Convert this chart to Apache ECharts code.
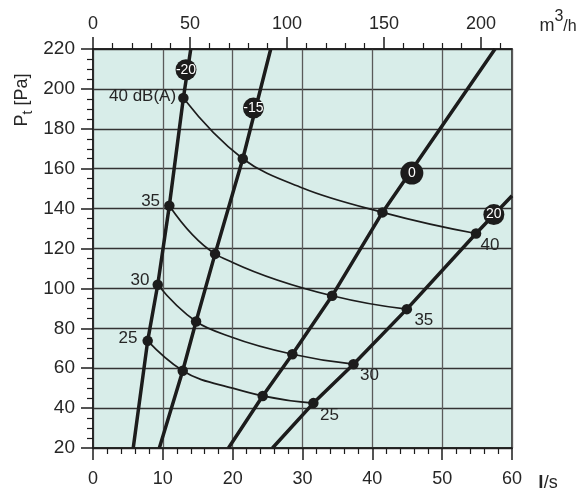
<!DOCTYPE html>
<html>
<head>
<meta charset="utf-8">
<script src="https://cdn.jsdelivr.net/npm/echarts@6/dist/echarts.min.js"></script>
<style>html,body{margin:0;padding:0;background:#fff}#c{width:583px;height:497px}</style>
</head>
<body>
<div id="c"></div>
<script>
// ---- data (l/s, Pa) ----
const noiseLabelsLeft = ['40 dB(A)', '35', '30', '25'];
const noiseLabelsRight = ['40', '35', '30', '25'];
const dots40 = [[12.94, 195.4], [21.45, 165], [41.45, 138.1], [54.85, 127.5]];
const dots35 = [[10.93, 141.4], [17.48, 117.3], [34.24, 96.3], [44.94, 89.6]];
const dots30 = [[9.27, 101.8], [14.76, 83.4], [28.55, 67], [37.3, 62]];
const dots25 = [[7.83, 73.7], [12.85, 58.7], [24.3, 46.1], [31.56, 42.5]];
const extra40 = [[30, 150.3]];
const extra35 = [[20, 113]];
const extra30 = [[20, 75.4]];
const extra25 = [[20, 50]];
const sysNames = ['-20', '-15', '0', '20'];
const sysBottom = [[5.76, 20], [9.5, 20], [19.4, 20], [25.7, 20]];
const sysTop = [[14.0, 220], [25.45, 220], [57.57, 220], [60, 146.4]];
const sysBadge = [[13.32, 209.6], [22.97, 190.4], [45.66, 157.8], [57.4, 137]];
const topTickLabels = [0, 50, 100, 150, 200];
const topMinorTicks = [10, 20, 30, 40, 60, 70, 80, 90, 110, 120, 130, 140, 160, 170, 180, 190, 210];

// ---- build ----
const FONT = '"Liberation Sans", Arial, Helvetica, sans-serif';
const INK = '#1c1c1c';
const TXT = '#262626';
const dotSets = [dots40, dots35, dots30, dots25];
const extraSets = [extra40, extra35, extra30, extra25];
const curves = dotSets.map((d, k) => d.concat(extraSets[k]).sort((a, b) => a[0] - b[0]));
const series = [];

// system (damper) lines
sysNames.forEach((n, i) => {
  series.push({
    type: 'line', data: [sysBottom[i], dots25[i], dots30[i], dots35[i], dots40[i], sysTop[i]],
    symbol: 'none', lineStyle: { color: INK, width: 3.5 }, z: 3, silent: true
  });
});

// noise curves: smooth cubic Hermite through the read points, in pixel space
function splineSegments(px) {
  const n = px.length, h = [], d = [], m = [];
  for (let i = 0; i < n - 1; i++) {
    h.push(px[i + 1][0] - px[i][0]);
    d.push((px[i + 1][1] - px[i][1]) / h[i]);
  }
  for (let i = 0; i < n; i++) {
    if (i === 0) m.push(((2 * h[0] + h[1]) * d[0] - h[0] * d[1]) / (h[0] + h[1]));
    else if (i === n - 1) {
      const a = h[n - 2], b = h[n - 3];
      m.push(((2 * a + b) * d[n - 2] - a * d[n - 3]) / (a + b));
    } else m.push((h[i] * d[i - 1] + h[i - 1] * d[i]) / (h[i - 1] + h[i]));
  }
  const segs = [];
  for (let i = 0; i < n - 1; i++) {
    const t = h[i] / 3;
    segs.push({
      x1: px[i][0], y1: px[i][1], x2: px[i + 1][0], y2: px[i + 1][1],
      cpx1: px[i][0] + t, cpy1: px[i][1] + m[i] * t,
      cpx2: px[i + 1][0] - t, cpy2: px[i + 1][1] - m[i + 1] * t
    });
  }
  return segs;
}
series.push({
  type: 'custom', coordinateSystem: 'cartesian2d', silent: true, z: 2,
  data: curves.map((c, k) => [c[0][0], c[0][1], k]),
  encode: { x: 0, y: 1 },
  renderItem: function (params, api) {
    const c = curves[api.value(2)];
    const px = c.map(p => api.coord(p));
    return {
      type: 'group',
      children: splineSegments(px).map(s => ({
        type: 'bezierCurve', shape: s,
        style: { stroke: INK, lineWidth: 1.7, fill: 'none' }
      }))
    };
  }
});

// intersection dots with labels
const leftLab = [
  { distance: 2, offset: [0, -2] },
  { distance: 4, offset: [0, -4] },
  { distance: 3, offset: [0, -4] },
  { distance: 5, offset: [0, -3] }
];
const rightLab = [[14, 12], [17, 11], [16, 11], [16, 12]];
const dotData = [];
dotSets.forEach((d, k) => {
  d.forEach((p, i) => {
    const item = { value: p };
    if (i === 0) {
      item.label = { show: true, formatter: noiseLabelsLeft[k], position: 'left',
        distance: leftLab[k].distance, offset: leftLab[k].offset };
    } else if (i === 3) {
      item.label = { show: true, formatter: noiseLabelsRight[k], position: 'inside',
        offset: rightLab[k] };
    }
    dotData.push(item);
  });
});
series.push({
  type: 'scatter', data: dotData, symbolSize: 10.5, itemStyle: { color: INK, opacity: 1 },
  label: { show: false, color: TXT, fontSize: 17, fontFamily: FONT }, z: 5, silent: true
});

// damper position badges
series.push({
  type: 'scatter',
  data: sysBadge.map((p, i) => ({ value: p, symbolSize: sysNames[i] === '0' ? 23 : 21,
    label: { formatter: sysNames[i] } })),
  itemStyle: { color: INK, opacity: 1 },
  label: { show: true, position: 'inside', color: '#fff', fontSize: 14, fontFamily: FONT },
  z: 6, silent: true
});

const tickStyle = { color: INK, width: 1.5 };
const option = {
  animation: false,
  grid: { left: 93, right: 71, top: 49, bottom: 49, show: true, backgroundColor: '#d8ede9',
    borderColor: INK, borderWidth: 1.5 },
  xAxis: [
    { type: 'value', position: 'bottom', min: 0, max: 60, interval: 10,
      axisLine: { lineStyle: tickStyle },
      axisTick: { length: 12, lineStyle: tickStyle },
      minorTick: { show: true, splitNumber: 5, length: 6, lineStyle: { color: INK, width: 1.2 } },
      axisLabel: { fontSize: 18, color: TXT, margin: 22, fontFamily: FONT },
      splitLine: { show: true, lineStyle: { color: '#5a5a5a', width: 1.3 } } },
    { type: 'value', position: 'top', min: 0, max: 216,
      axisLine: { show: true, lineStyle: tickStyle },
      axisTick: { customValues: topTickLabels, length: 12, lineStyle: tickStyle },
      axisLabel: { customValues: topTickLabels, fontSize: 18, color: TXT, margin: 16, fontFamily: FONT },
      splitLine: { show: false } },
    { type: 'value', position: 'top', min: 0, max: 216,
      axisLine: { show: false },
      axisTick: { customValues: topMinorTicks, length: 6, lineStyle: { color: INK, width: 1.2 } },
      axisLabel: { show: false }, splitLine: { show: false } }
  ],
  yAxis: {
    type: 'value', min: 20, max: 220, interval: 20,
    axisLine: { show: true, lineStyle: tickStyle },
    axisTick: { show: true, length: 12, lineStyle: tickStyle },
    minorTick: { show: true, splitNumber: 4, length: 6, lineStyle: { color: INK, width: 1.2 } },
    axisLabel: { fontSize: 19, color: TXT, margin: 18, fontFamily: FONT },
    splitLine: { show: true, lineStyle: { color: '#333333', width: 1.3 } }
  },
  graphic: [
    { type: 'text', x: 22, y: 100, rotation: Math.PI / 2,
      style: { text: '{p|P}{s|t}{p| [Pa]}', align: 'center', verticalAlign: 'middle',
        rich: { p: { fontSize: 18, fontFamily: FONT, fill: TXT, lineHeight: 26, verticalAlign: 'middle' },
                s: { fontSize: 14, fontFamily: FONT, fill: TXT, lineHeight: 12, verticalAlign: 'bottom' } } } },
    { type: 'text', x: 558, y: 22,
      style: { text: '{m|m}{s|3}{h|/h}', align: 'center', verticalAlign: 'middle',
        rich: { m: { fontSize: 18, fontFamily: FONT, fill: TXT, lineHeight: 26, verticalAlign: 'bottom' },
                s: { fontSize: 16, fontFamily: FONT, fill: TXT, lineHeight: 14, verticalAlign: 'top' },
                h: { fontSize: 16, fontFamily: FONT, fill: TXT, lineHeight: 22, verticalAlign: 'bottom' } } } },
    { type: 'text', x: 548, y: 483,
      style: { text: '{b|l}{n|/s}', align: 'center', verticalAlign: 'middle',
        rich: { b: { fontSize: 19, fontWeight: 'bold', fontFamily: FONT, fill: TXT },
                n: { fontSize: 18, fontFamily: FONT, fill: TXT } } } }
  ],
  series: series
};
const chart = echarts.init(document.getElementById('c'), null, { renderer: 'canvas' });
chart.setOption(option);
</script>
</body>
</html>
